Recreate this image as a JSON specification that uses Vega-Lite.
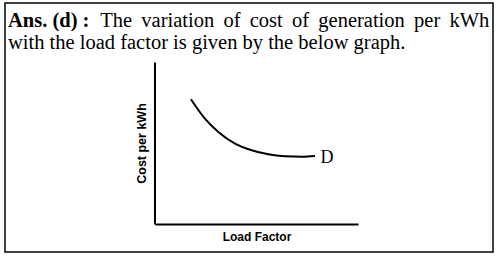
{
  "$schema": "https://vega.github.io/schema/vega-lite/v6.json",
  "width": 488,
  "height": 249,
  "autosize": "none",
  "padding": {"left": 5, "top": 3, "right": 5, "bottom": 5},
  "background": "white",
  "config": {"view": {"stroke": "black", "strokeWidth": 1.5, "fill": "white"}},
  "title": {
    "text": "Ans. (d) :",
    "subtitle": ["\u200b\u2003\u2003\u2003\u2003\u00a0\u00a0The\u00a0\u2009variation\u00a0\u2009of\u00a0\u2009cost\u00a0\u2009of\u00a0\u2009generation\u00a0\u2009per\u00a0\u2009kWh", "with the load factor is given by the below graph."],
    "anchor": "start",
    "frame": "group",
    "orient": "top",
    "font": "Liberation Serif",
    "fontSize": 20.5,
    "fontWeight": "bold",
    "color": "black",
    "subtitleFont": "Liberation Serif",
    "subtitleFontSize": 20.5,
    "subtitleFontWeight": "normal",
    "subtitleColor": "black",
    "subtitlePadding": -20.5,
    "subtitleLineHeight": 22,
    "offset": -50,
    "dx": 3
  },
  "datasets": {
    "curve": [
      {"load": 17.7, "cost": 77.0},
      {"load": 24.6, "cost": 65.0},
      {"load": 31.2, "cost": 56.8},
      {"load": 39.4, "cost": 49.6},
      {"load": 47.6, "cost": 45.5},
      {"load": 55.8, "cost": 43.0},
      {"load": 64.0, "cost": 41.8},
      {"load": 72.3, "cost": 41.5},
      {"load": 78.8, "cost": 42.0}
    ],
    "labels": [
      {"load": 81.5, "cost": 41.0, "label": "D"}
    ]
  },
  "layer": [
    {
      "data": {"name": "curve"},
      "mark": {"type": "line", "interpolate": "monotone", "stroke": "black", "strokeWidth": 2},
      "encoding": {
        "x": {
          "field": "load", "type": "quantitative",
          "scale": {"domain": [0, 100], "range": [150, 353]},
          "axis": {"title": "Load Factor", "ticks": false, "labels": false, "grid": false,
                   "domainColor": "black", "domainWidth": 2, "offset": -28,
                   "titleFont": "Liberation Sans", "titleFontWeight": "bold", "titleFontSize": 12,
                   "titleColor": "black", "titlePadding": 7}
        },
        "y": {
          "field": "cost", "type": "quantitative",
          "scale": {"domain": [0, 100], "range": [221, 59]},
          "axis": {"title": "Cost per kWh", "ticks": false, "labels": false, "grid": false,
                   "domainColor": "black", "domainWidth": 2, "offset": -149.5,
                   "titleFont": "Liberation Sans", "titleFontWeight": "bold", "titleFontSize": 12.5,
                   "titleColor": "black", "titlePadding": 6}
        }
      }
    },
    {
      "data": {"name": "labels"},
      "mark": {"type": "text", "align": "left", "baseline": "middle", "font": "Liberation Serif", "fontSize": 18, "color": "black"},
      "encoding": {
        "x": {"field": "load", "type": "quantitative"},
        "y": {"field": "cost", "type": "quantitative"},
        "text": {"field": "label"}
      }
    }
  ]
}
